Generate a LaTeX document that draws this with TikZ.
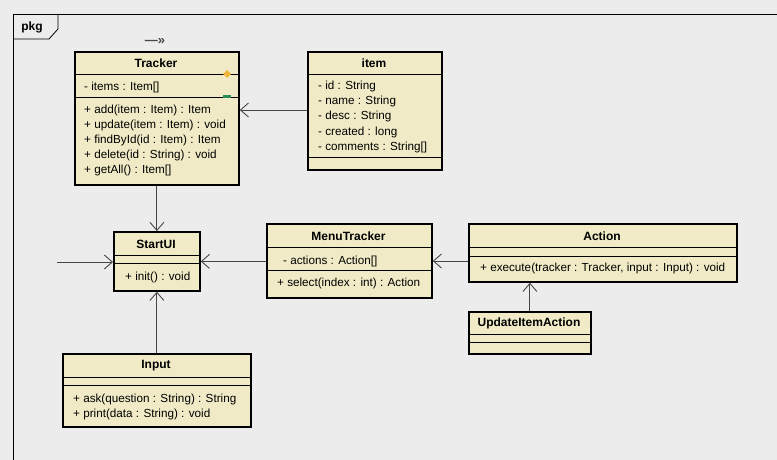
\documentclass[tikz,border=0pt]{standalone}
\usepackage{fontspec}
\setmainfont{Liberation Sans}
\usetikzlibrary{arrows.meta}
\definecolor{bg}{RGB}{236,236,236}
\definecolor{clsfill}{RGB}{240,235,198}
\definecolor{arrcol}{RGB}{70,70,70}
\definecolor{dorange}{RGB}{240,180,60}
\definecolor{dgreen}{RGB}{40,140,90}
\begin{document}
\begin{tikzpicture}[x=1pt,y=-1pt,
  cls/.style={draw=black, line width=1.8pt, fill=clsfill, anchor=north west, inner sep=0pt},
  ttl/.style={font=\fontsize{12}{14}\selectfont\bfseries, inner sep=0pt},
  mem/.style={font=\fontsize{11.7}{14}\selectfont, anchor=west, inner sep=0pt},
  sep/.style={line width=0.8pt},
  arr/.style={draw=arrcol, line width=0.9pt, -{Straight Barb[length=8pt,width=14pt]}}]
\fill[bg] (0,0) rectangle (777,460);
\useasboundingbox (0,0) rectangle (777,460);
% package frame
\draw[line width=0.8pt] (13,460) -- (13,14) -- (777,14);
\draw[line width=0.8pt] (13,39) -- (49,39) -- (58,29) -- (58,14);
\node[ttl] (pkg) at (32,27) {pkg};
% Tracker
\node[cls, minimum width=164pt, minimum height=133pt] (tracker) at (74,51) {};
\draw[sep] (74,74) -- (238,74);
\draw[sep] (74,97) -- (238,97);
\node[ttl] (trT) at (156,63) {Tracker};
\node[mem] (tr1) at (84,87) {- items : Item[]};
\node[mem] (tr2) at (84,110) {+ add(item : Item) : Item};
\node[mem] (tr3) at (84,125) {+ update(item : Item) : void};
\node[mem] (tr4) at (84,140) {+ findById(id : Item) : Item};
\node[mem] (tr5) at (84,155) {+ delete(id : String) : void};
\node[mem] (tr6) at (84,170) {+ getAll() : Item[]};
\fill[dorange] (227,70) -- (231,74) -- (227,78) -- (223,74) -- cycle;
\fill[dgreen] (223,95.5) rectangle (231,98.5);
\node[ttl, text=arrcol, font=\fontsize{13}{13}\selectfont\bfseries] (mark) at (155,42) {—»};
% item
\node[cls, minimum width=134pt, minimum height=118pt] (item) at (307,51) {};
\draw[sep] (307,74) -- (441,74);
\draw[sep] (307,157) -- (441,157);
\node[ttl] (itT) at (374,63) {item};
\node[mem] (it1) at (318,86) {- id : String};
\node[mem] (it2) at (318,101) {- name : String};
\node[mem] (it3) at (318,116) {- desc : String};
\node[mem] (it4) at (318,132) {- created : long};
\node[mem] (it5) at (318,147) {- comments : String[]};
% StartUI
\node[cls, minimum width=86pt, minimum height=59pt] (startui) at (113,231) {};
\draw[sep] (113,255) -- (199,255);
\draw[sep] (113,263) -- (199,263);
\node[ttl] (suT) at (156,244) {StartUI};
\node[mem] (su1) at (125,277) {+ init() : void};
% MenuTracker
\node[cls, minimum width=165pt, minimum height=74pt] (menu) at (266,223) {};
\draw[sep] (266,247) -- (431,247);
\draw[sep] (266,270) -- (431,270);
\node[ttl] (mtT) at (348.5,236) {MenuTracker};
\node[mem] (mt1) at (283,261) {- actions : Action[]};
\node[mem] (mt2) at (277,283) {+ select(index : int) : Action};
% Action
\node[cls, minimum width=268pt, minimum height=58pt] (action) at (468,223) {};
\draw[sep] (468,247) -- (736,247);
\draw[sep] (468,256) -- (736,256);
\node[ttl] (acT) at (602,236) {Action};
\node[mem] (ac1) at (480,268) {+ execute(tracker : Tracker, input : Input) : void};
% UpdateItemAction
\node[cls, minimum width=122pt, minimum height=42pt] (upd) at (468,311) {};
\draw[sep] (468,334) -- (590,334);
\draw[sep] (468,342) -- (590,342);
\node[ttl] (upT) at (529,323) {UpdateItemAction};
% Input
\node[cls, minimum width=188pt, minimum height=73pt] (input) at (62,353) {};
\draw[sep] (62,377) -- (250,377);
\draw[sep] (62,385) -- (250,385);
\node[ttl] (inT) at (156,366) {Input};
\node[mem] (in1) at (73,399) {+ ask(question : String) : String};
\node[mem] (in2) at (73,414) {+ print(data : String) : void};
% connectors
\coordinate (lin) at (57,262);
\draw[arr] (item.west |- tr2) -- (tracker.east |- tr2);
\draw[arr] (tracker.south) -- (startui.north);
\draw[arr] (lin) -- (lin -| startui.west);
\draw[arr] (menu.west |- startui.center) -- (startui.east);
\draw[arr] (action.west |- mt1) -- (menu.east |- mt1);
\draw[arr] (upd.north) -- (upd.north |- action.south);
\draw[arr] (input.north) -- (startui.south);
\end{tikzpicture}
\end{document}
